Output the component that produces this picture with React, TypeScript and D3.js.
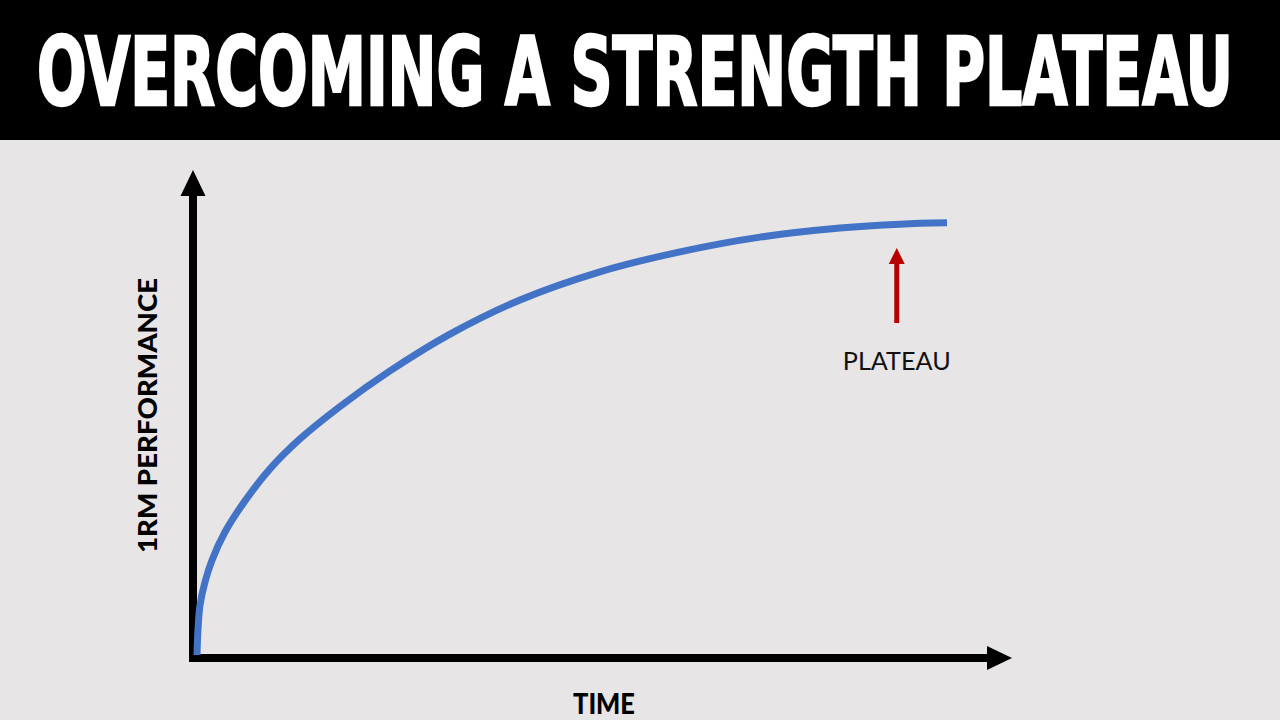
import { useEffect, useRef } from 'react'
import * as d3 from 'd3'

// Progress over time (arbitrary units)
const timeValues = [0, 0.13, 0.4, 1.07, 2.0, 3.73, 6.4, 9.73, 13.73, 19.07, 25.73, 33.73, 43.07, 53.73, 64.4, 75.07, 85.73, 93.73, 100]
const performanceValues = [0, 5.8, 11.5, 16.9, 21.9, 28.4, 35.6, 43.0, 49.9, 57.4, 65.6, 74.1, 82.0, 88.5, 93.1, 96.5, 98.6, 99.5, 99.8]
const plateauTime = [93.3]

const titleText = 'OVERCOMING A STRENGTH PLATEAU'
const xLabel = 'TIME'
const yLabel = '1RM PERFORMANCE'
const plateauLabel = 'PLATEAU'

const WIDTH = 1280
const HEIGHT = 720

export default function App() {
  const svgRef = useRef<SVGSVGElement>(null)

  useEffect(() => {
    if (!svgRef.current) return
    const svg = d3.select(svgRef.current)
    svg.selectAll('*').remove()

    // background + header band
    svg.append('rect').attr('width', WIDTH).attr('height', HEIGHT).attr('fill', '#e7e5e6')
    svg.append('rect').attr('width', WIDTH).attr('height', 140).attr('fill', '#000')
    svg
      .append('text')
      .attr('x', 37)
      .attr('y', 105)
      .attr('fill', '#fff')
      .attr('stroke', '#fff')
      .attr('stroke-width', 2.5)
      .attr('font-family', '"Liberation Sans Narrow", "DejaVu Sans Condensed", "Roboto Condensed", sans-serif')
      .attr('font-weight', 700)
      .attr('font-size', 94)
      .attr('textLength', 1196)
      .attr('lengthAdjust', 'spacingAndGlyphs')
      .text(titleText)

    const x = d3.scaleLinear().domain([0, 100]).range([197, 947])
    const y = d3.scaleLinear().domain([0, 100]).range([655, 222])

    // axes with arrowheads
    const axisX = 193
    const axisY = 658
    svg
      .append('line')
      .attr('x1', axisX)
      .attr('y1', axisY + 4)
      .attr('x2', axisX)
      .attr('y2', 190)
      .attr('stroke', '#000')
      .attr('stroke-width', 8)
    svg
      .append('path')
      .attr('d', `M${axisX},170 L${axisX + 12.5},196 L${axisX - 12.5},196 Z`)
      .attr('fill', '#000')
    svg
      .append('line')
      .attr('x1', axisX - 4)
      .attr('y1', axisY)
      .attr('x2', 992)
      .attr('y2', axisY)
      .attr('stroke', '#000')
      .attr('stroke-width', 8)
    svg
      .append('path')
      .attr('d', `M1012,${axisY} L987,${axisY - 12} L987,${axisY + 12} Z`)
      .attr('fill', '#000')

    // growth curve
    const points = timeValues.map((t, i) => [t, performanceValues[i]] as [number, number])
    const line = d3
      .line<[number, number]>()
      .x((d) => x(d[0]))
      .y((d) => y(d[1]))
      .curve(d3.curveCatmullRom.alpha(0.5))
    svg
      .append('path')
      .datum(points)
      .attr('d', line)
      .attr('fill', 'none')
      .attr('stroke', '#4373c6')
      .attr('stroke-width', 7)

    // plateau marker
    const px = x(plateauTime[0])
    svg
      .append('line')
      .attr('x1', px)
      .attr('y1', 323)
      .attr('x2', px)
      .attr('y2', 260)
      .attr('stroke', '#b80000')
      .attr('stroke-width', 5)
    svg
      .append('path')
      .attr('d', `M${px},248 L${px + 8},264 L${px - 8},264 Z`)
      .attr('fill', '#b80000')
    svg
      .append('text')
      .attr('x', px)
      .attr('y', 370)
      .attr('text-anchor', 'middle')
      .attr('fill', '#111')
      .attr('font-family', 'Lato, "Open Sans", sans-serif')
      .attr('font-size', 25)
      .attr('textLength', 108)
      .attr('lengthAdjust', 'spacingAndGlyphs')
      .text(plateauLabel)

    // axis labels
    svg
      .append('text')
      .attr('x', 604)
      .attr('y', 714)
      .attr('text-anchor', 'middle')
      .attr('fill', '#000')
      .attr('font-family', 'Lato, "Open Sans", sans-serif')
      .attr('font-weight', 900)
      .attr('font-size', 28)
      .attr('textLength', 62)
      .attr('lengthAdjust', 'spacingAndGlyphs')
      .text(xLabel)
    svg
      .append('text')
      .attr('transform', 'translate(157,415.5) rotate(-90)')
      .attr('text-anchor', 'middle')
      .attr('fill', '#000')
      .attr('font-family', 'Lato, "Open Sans", sans-serif')
      .attr('font-weight', 900)
      .attr('font-size', 27)
      .attr('textLength', 275)
      .attr('lengthAdjust', 'spacingAndGlyphs')
      .text(yLabel)
  }, [])

  return (
    <svg
      ref={svgRef}
      width={WIDTH}
      height={HEIGHT}
      style={{ position: 'absolute', top: 0, left: 0, display: 'block' }}
    />
  )
}
